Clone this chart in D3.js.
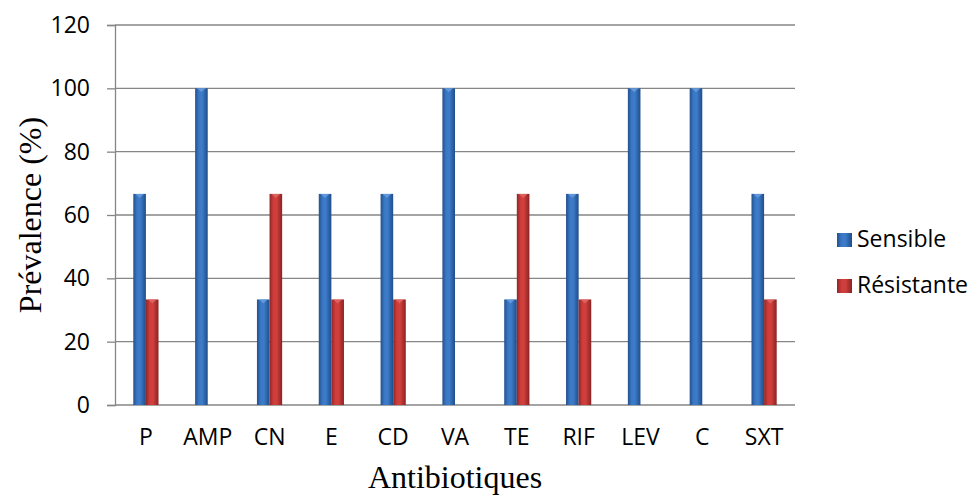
<!DOCTYPE html>
<html>
<head>
<meta charset="utf-8">
<script src="https://cdn.jsdelivr.net/npm/d3@7"></script>
<style>
body { margin: 0; background: #fff; }
</style>
</head>
<body>
<div id="chart"></div>
<script>
// data
const categories = ["P", "AMP", "CN", "E", "CD", "VA", "TE", "RIF", "LEV", "C", "SXT"];
const sensible = [66.67, 100, 33.33, 66.67, 66.67, 100, 33.33, 66.67, 100, 100, 66.67];
const resistante = [33.33, 0, 66.67, 33.33, 33.33, 0, 66.67, 33.33, 0, 0, 33.33];
const seriesNames = ["Sensible", "Résistante"];
const yTicks = [0, 20, 40, 60, 80, 100, 120];

const W = 972, H = 497;
const margin = {top: 25, right: 177, bottom: 92, left: 115};
const width = W - margin.left - margin.right,
      height = H - margin.top - margin.bottom;

const svg = d3.select("#chart").append("svg")
    .attr("width", W).attr("height", H);

// cylinder-like gradients
const defs = svg.append("defs");
function grad(id, stops) {
    const g = defs.append("linearGradient").attr("id", id)
        .attr("x1", "0%").attr("x2", "100%").attr("y1", "0%").attr("y2", "0%");
    stops.forEach(s => g.append("stop").attr("offset", s[0]).attr("stop-color", s[1]));
}
grad("gBlue", [["0%", "#23508c"], ["30%", "#3a78c6"], ["55%", "#3d7cc9"], ["100%", "#1f4d8a"]]);
grad("gRed", [["0%", "#8e2626"], ["30%", "#cf3c3a"], ["55%", "#d1403d"], ["100%", "#8a2323"]]);

const g = svg.append("g").attr("transform", `translate(${margin.left},${margin.top})`);

const x = d3.scaleBand().domain(categories).range([0, width]);
const xs = d3.scaleBand().domain(seriesNames).range([x.bandwidth() / 2 - 12.6, x.bandwidth() / 2 + 12.6]);
const y = d3.scaleLinear().domain([0, 120]).range([height, 0]);

// gridlines
g.append("g").selectAll("line").data(yTicks).join("line")
    .attr("x1", 0).attr("x2", width)
    .attr("y1", d => y(d)).attr("y2", d => y(d))
    .attr("stroke", "#868686").attr("stroke-width", 1.3);

// y axis
const yAxis = g.append("g")
    .call(d3.axisLeft(y).tickValues(yTicks).tickSize(8).tickPadding(17));
yAxis.select(".domain").attr("stroke", "#868686").attr("stroke-width", 1.3);
yAxis.selectAll(".tick line").attr("stroke", "#868686").attr("stroke-width", 1.3);
yAxis.selectAll("text").attr("font-family", "'Open Sans', sans-serif").attr("font-size", 23).attr("fill", "#000");

// x axis labels
const xAxis = g.append("g").attr("transform", `translate(0,${height})`)
    .call(d3.axisBottom(x).tickSize(0).tickPadding(24));
xAxis.select(".domain").remove();
xAxis.selectAll("text").attr("font-family", "'Open Sans', sans-serif").attr("font-size", 23).attr("fill", "#000");

const rows = categories.map((c, i) => ({cat: c, Sensible: sensible[i], "Résistante": resistante[i]}));

const fills = {"Sensible": "url(#gBlue)", "Résistante": "url(#gRed)"};
const caps = {"Sensible": "#6a9fe0", "Résistante": "#e06a66"};

const groups = g.append("g").selectAll("g").data(rows).join("g")
    .attr("transform", d => `translate(${x(d.cat)},0)`);

groups.selectAll("rect")
    .data(d => seriesNames.map(k => ({key: k, value: d[k]})).filter(d => d.value > 0))
    .join("rect")
    .attr("x", d => xs(d.key))
    .attr("width", xs.bandwidth())
    .attr("y", d => y(d.value))
    .attr("height", d => y(0) - y(d.value))
    .attr("fill", d => fills[d.key]);

// small top cap
groups.selectAll("path.cap")
    .data(d => seriesNames.map(k => ({key: k, value: d[k]})).filter(d => d.value > 0))
    .join("path").attr("class", "cap")
    .attr("d", d => {
        const x0 = xs(d.key), w = xs.bandwidth(), t = y(d.value);
        return `M${x0 + 2},${t} L${x0 + w - 2},${t} L${x0 + w / 2},${t + 4} Z`;
    })
    .attr("fill", d => caps[d.key]).attr("opacity", 0.8);

// axis titles
svg.append("text")
    .attr("x", 455).attr("y", 488)
    .attr("text-anchor", "middle")
    .attr("font-family", "'Liberation Serif', serif").attr("font-size", 32)
    .text("Antibiotiques");

svg.append("text")
    .attr("transform", `translate(41,215) rotate(-90)`)
    .attr("text-anchor", "middle")
    .attr("font-family", "'Liberation Serif', serif").attr("font-size", 32)
    .text("Prévalence (%)");

// legend
const legend = svg.append("g").attr("transform", "translate(837,233)");
const li = legend.selectAll("g").data(seriesNames).join("g")
    .attr("transform", (d, i) => `translate(0,${i * 46})`);
li.append("rect").attr("width", 15).attr("height", 14)
    .attr("fill", d => fills[d]);
li.append("text").attr("x", 20).attr("y", 14)
    .attr("font-family", "'Open Sans', sans-serif").attr("font-size", 23)
    .text(d => d);
</script>
</body>
</html>
